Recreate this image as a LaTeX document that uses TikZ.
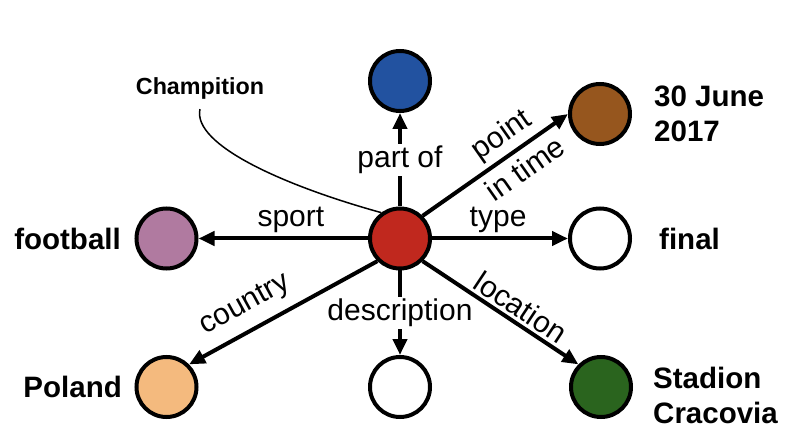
\documentclass[tikz,border=0pt]{standalone}
\usepackage{fontspec}
\setmainfont{Liberation Sans}
\usetikzlibrary{arrows.meta}
\definecolor{cred}{RGB}{192,40,30}
\definecolor{cblue}{RGB}{34,82,160}
\definecolor{cbrown}{RGB}{150,86,30}
\definecolor{cpurple}{RGB}{176,122,160}
\definecolor{corange}{RGB}{244,186,126}
\definecolor{cgreen}{RGB}{42,100,30}
\begin{document}
\begin{tikzpicture}[x=1pt,y=-1pt,
  ent/.style={circle,draw=black,line width=4pt,minimum size=60pt,inner sep=0pt},
  rel/.style={line width=4pt,-{Triangle[length=16pt,width=14pt]}},
  elab/.style={font=\fontsize{30}{36}\selectfont,inner sep=2pt},
  vlab/.style={font=\bfseries\fontsize{29.5}{35}\selectfont,inner sep=0pt,align=left},
]
\useasboundingbox (0,0) rectangle (808,430);
\node[ent,fill=cred] (c) at (400,238.5) {};
\node[ent,fill=cblue] (pb) at (400,81) {};
\node[ent,fill=cbrown] (pt) at (600,114) {};
\node[ent,fill=white] (ty) at (600,238.5) {};
\node[ent,fill=cgreen] (lo) at (601,387) {};
\node[ent,fill=white] (de) at (400,387) {};
\node[ent,fill=corange] (co) at (166.5,387) {};
\node[ent,fill=cpurple] (sp) at (166.5,238.5) {};

\draw[rel] (c) -- node[elab,fill=white,pos=0.5]{part of} (pb);
\draw[rel] (c) -- node[elab,fill=white,pos=0.5]{description} (de);
\draw[rel] (c) -- node[elab,above=2pt,pos=0.455]{sport} (sp);
\draw[rel] (c) -- node[elab,above=2pt,pos=0.486]{type} (ty);
\draw[rel] (c.45) -- node[elab,sloped,above=2pt,pos=0.625]{point}
                     node[elab,sloped,below=5pt,pos=0.625]{in time} (pt.west);
\draw[rel] (c.-45) -- node[elab,sloped,above=1pt,pos=0.574]{location} (lo.135);
\draw[rel] (c.-135) -- node[elab,sloped,above=8pt,pos=0.638]{country} (co.45);

\node[vlab,anchor=east] (lsp) at (121,238.5) {football};
\node[vlab,anchor=east] (lco) at (122,387) {Poland};
\node[vlab,anchor=west] (lty) at (659,238.5) {final};
\node[vlab,anchor=west] (lpt) at (654,114) {30 June\\2017};
\node[vlab,anchor=west] (llo) at (653,395) {Stadion\\Cracovia};

\node[font=\bfseries\fontsize{23.3}{27}\selectfont,inner sep=0pt] (ch) at (200,88) {Champition};
\draw[line width=1.5pt] ([yshift=-10pt]ch.south) .. controls (192,145) and (285,186) .. (c.126);
\end{tikzpicture}
\end{document}
